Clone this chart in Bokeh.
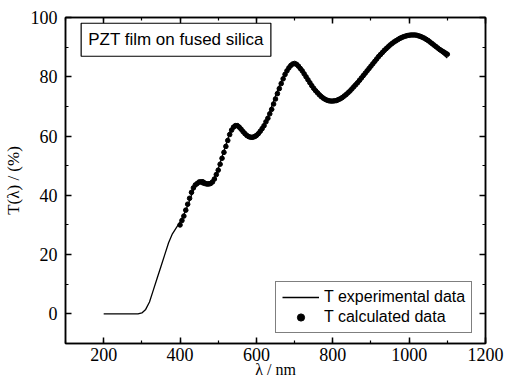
from bokeh.plotting import figure
from bokeh.models import LinearAxis, Range1d, Legend, LegendItem, Label, FixedTicker
from bokeh.embed import file_html
from bokeh.resources import INLINE

# Experimental transmittance (solid line)
exp_wl = [200, 250, 290, 300, 310, 320, 330, 340, 350, 360, 370, 380, 390, 400, 410, 420,
          430, 440, 450, 460, 470, 480, 490, 500, 510, 520, 530, 540, 550, 560, 570, 580,
          590, 600, 610, 620, 630, 640, 650, 660, 670, 680, 690, 700, 710, 720, 730, 740,
          750, 760, 770, 780, 790, 800, 810, 820, 830, 840, 850, 860, 870, 880, 890, 900,
          910, 920, 930, 940, 950, 960, 970, 980, 990, 1000, 1010, 1020, 1030, 1040, 1050,
          1060, 1070, 1080, 1090, 1100]
exp_T = [0, 0, 0, 0.3, 1.5, 4, 8, 12, 16, 20, 24, 27, 29, 31, 33.5, 36.5,
         40, 43.5, 45, 45.3, 44.5, 44.5, 46, 49, 53, 57, 61, 63.8, 64, 62.5, 60.5, 59.3,
         59, 59.5, 61, 63.5, 66.5, 70, 73.5, 77, 80, 82.5, 84.2, 84.8, 84, 82.3, 80.2, 78.2,
         76.3, 74.7, 73.4, 72.5, 72, 71.8, 72, 72.6, 73.5, 74.6, 75.9, 77.3, 78.8, 80.4, 82, 83.6,
         85.2, 86.8, 88.2, 89.5, 90.7, 91.7, 92.5, 93.2, 93.7, 94, 94, 93.8, 93.3, 92.6, 91.7,
         90.7, 89.6, 88.5, 87.4, 86.3]

# Calculated transmittance (dots)
calc_wl = [400, 405, 410, 415, 420, 425, 430, 435, 440, 445, 450, 455, 460, 465, 470, 475,
           480, 485, 490, 495, 500, 505, 510, 515, 520, 525, 530, 535, 540, 545, 550, 555,
           560, 565, 570, 575, 580, 585, 590, 595, 600, 605, 610, 615, 620, 625, 630, 635,
           640, 645, 650, 655, 660, 665, 670, 675, 680, 685, 690, 695, 700, 705, 710, 715,
           720, 725, 730, 735, 740, 745, 750, 755, 760, 765, 770, 775, 780, 785, 790, 795,
           800, 805, 810, 815, 820, 825, 830, 835, 840, 845, 850, 855, 860, 865, 870, 875,
           880, 885, 890, 895, 900, 905, 910, 915, 920, 925, 930, 935, 940, 945, 950, 955,
           960, 965, 970, 975, 980, 985, 990, 995, 1000, 1005, 1010, 1015, 1020, 1025, 1030,
           1035, 1040, 1045, 1050, 1055, 1060, 1065, 1070, 1075, 1080, 1085, 1090, 1095, 1100]
calc_T = [30, 31.5, 33, 35, 37, 39, 41, 42.5, 43.5, 44, 44.5, 44.5, 44.2, 44, 43.8, 43.8,
          44, 44.5, 45.5, 47, 48.5, 50.5, 52.5, 54.5, 56.5, 58.5, 60.5, 62, 63, 63.5, 63.5, 63,
          62.3, 61.5, 60.8, 60.2, 59.8, 59.6, 59.6, 59.8, 60.2, 60.8, 61.6, 62.5, 63.5, 64.8, 66, 67.5,
          69, 70.8, 72.5, 74.3, 76, 77.7, 79.3, 80.8, 82, 83, 83.8, 84.3, 84.5, 84.2, 83.6, 82.8,
          82, 81, 80, 79, 78, 77, 76.1, 75.3, 74.6, 73.9, 73.3, 72.8, 72.4, 72.1, 71.9, 71.8,
          71.8, 71.9, 72, 72.3, 72.6, 73, 73.5, 74, 74.6, 75.2, 75.9, 76.6, 77.3, 78, 78.8, 79.6,
          80.4, 81.2, 82, 82.8, 83.6, 84.4, 85.2, 86, 86.8, 87.5, 88.2, 88.9, 89.5, 90.1, 90.7, 91.2,
          91.7, 92.1, 92.5, 92.9, 93.2, 93.5, 93.7, 93.9, 94, 94.1, 94.1, 94.1, 94, 93.8, 93.6,
          93.3, 93, 92.6, 92.2, 91.7, 91.2, 90.7, 90.2, 89.7, 89.2, 88.8, 88.4, 88, 87.6, 87.2]

x_ticks = [200, 400, 600, 800, 1000, 1200]
y_ticks = [0, 20, 40, 60, 80, 100]

p = figure(width=510, height=384, output_backend="svg", toolbar_location=None,
           x_range=Range1d(100, 1200), y_range=Range1d(-10, 100),
           min_border_left=64, min_border_right=25, min_border_top=17, min_border_bottom=41)
p.background_fill_color = "white"
p.border_fill_color = "white"
p.xgrid.visible = False
p.ygrid.visible = False
p.outline_line_color = "black"
p.outline_line_width = 1.5

serif = "Liberation Serif"

def style_axis(ax, ticks, minor, show_labels=True):
    ax.ticker = FixedTicker(ticks=ticks, minor_ticks=minor)
    ax.axis_line_color = "black"
    ax.axis_line_width = 1.5
    ax.major_tick_in = 6
    ax.major_tick_out = 0
    ax.minor_tick_in = 3
    ax.minor_tick_out = 0
    ax.major_tick_line_width = 1.5
    ax.minor_tick_line_width = 1.2
    ax.major_tick_line_color = "black"
    ax.minor_tick_line_color = "black"
    ax.major_label_text_font = serif
    ax.major_label_text_font_size = "18px"
    ax.major_label_text_color = "black"
    if not show_labels:
        ax.major_label_text_color = None
        ax.major_label_text_font_size = "0px"

x_minor = list(range(100, 1201, 100))
y_minor = list(range(-10, 101, 10))

style_axis(p.xaxis[0], x_ticks, x_minor)
style_axis(p.yaxis[0], y_ticks, y_minor)
p.xaxis[0].major_label_standoff = 4
p.yaxis[0].major_label_standoff = 8
p.xaxis[0].axis_label = "λ / nm"
p.yaxis[0].axis_label = "T(λ) / (%)"
for ax in (p.xaxis[0], p.yaxis[0]):
    ax.axis_label_text_font = serif
    ax.axis_label_text_font_size = "17px"
    ax.axis_label_text_font_style = "normal"
    ax.axis_label_text_color = "black"
p.xaxis[0].axis_label_text_font_size = "16px"
p.xaxis[0].axis_label_standoff = -3
p.yaxis[0].axis_label_standoff = 5

top_ax = LinearAxis()
style_axis(top_ax, x_ticks, x_minor, show_labels=False)
p.add_layout(top_ax, "above")
right_ax = LinearAxis()
style_axis(right_ax, y_ticks, y_minor, show_labels=False)
p.add_layout(right_ax, "right")

line_r = p.line(exp_wl, exp_T, line_color="black", line_width=1.3)
dot_r = p.scatter(calc_wl, calc_T, size=4.6, marker="circle", fill_color="black", line_color="black")

legend = Legend(items=[LegendItem(label="T experimental data", renderers=[line_r]),
                       LegendItem(label="T calculated data", renderers=[dot_r])],
                location=(210, 10))
legend.label_text_font = "Liberation Sans"
legend.label_text_font_size = "16px"
legend.label_text_color = "black"
legend.border_line_color = "black"
legend.border_line_width = 1.2
legend.background_fill_alpha = 1.0
legend.glyph_width = 37
legend.glyph_height = 18
legend.label_standoff = 5
legend.padding = 6
legend.spacing = 2
legend.margin = 0
legend.label_height = 18
p.add_layout(legend, "center")

title = Label(x=141, y=92.5, text="PZT film on fused silica", text_font="Liberation Sans",
              text_font_size="17px", text_baseline="middle", text_align="left",
              text_color="black", border_line_color="black", border_line_width=1.2,
              background_fill_color="white", padding=7)
p.add_layout(title)

open("out.html", "w").write(file_html(p, INLINE))
